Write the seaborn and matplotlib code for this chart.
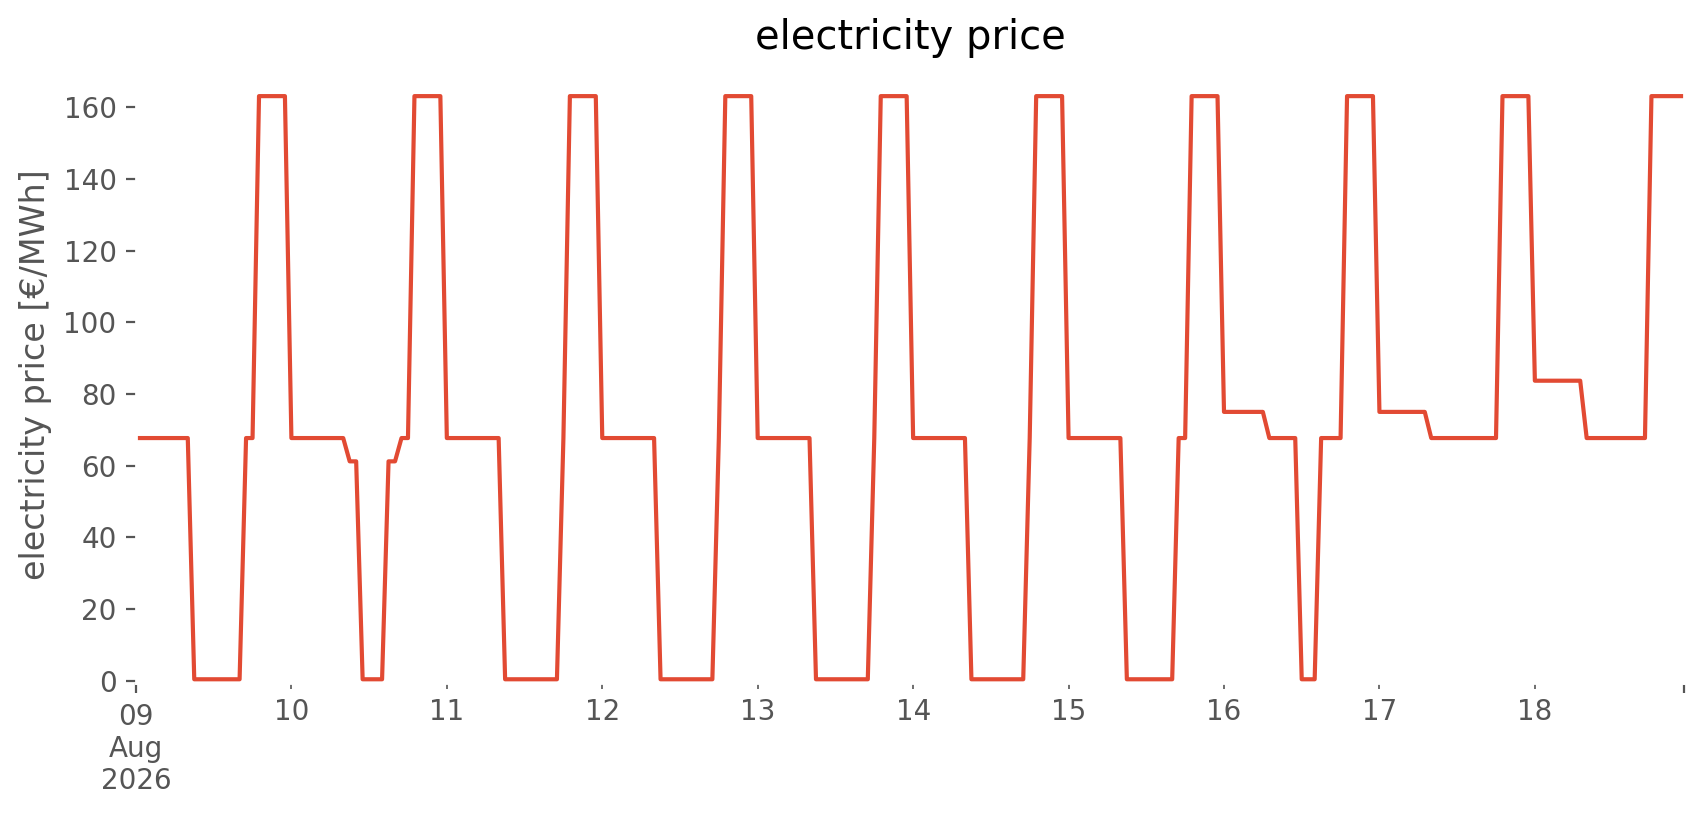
import matplotlib
matplotlib.use("Agg")
import matplotlib.pyplot as plt
import matplotlib.dates as mdates
from matplotlib.ticker import FixedLocator, FixedFormatter
import pandas as pd
import seaborn as sns

# hourly prices [€/MWh], one list per day (09 .. 18 Aug 2026)
day_09 = [67.7, 67.7, 67.7, 67.7, 67.7, 67.7, 67.7, 67.7, 67.7, 0.4, 0.4, 0.4, 0.4, 0.4, 0.4, 0.4, 0.4,
          67.7, 67.7, 163.1, 163.1, 163.1, 163.1, 163.1]
day_10 = [67.7, 67.7, 67.7, 67.7, 67.7, 67.7, 67.7, 67.7, 67.7, 61.2, 61.2, 0.4, 0.4, 0.4, 0.4,
          61.2, 61.2, 67.7, 67.7, 163.1, 163.1, 163.1, 163.1, 163.1]
day_11 = [67.7, 67.7, 67.7, 67.7, 67.7, 67.7, 67.7, 67.7, 67.7, 0.4, 0.4, 0.4, 0.4, 0.4, 0.4, 0.4, 0.4, 0.4,
          67.7, 163.1, 163.1, 163.1, 163.1, 163.1]
day_12 = [67.7, 67.7, 67.7, 67.7, 67.7, 67.7, 67.7, 67.7, 67.7, 0.4, 0.4, 0.4, 0.4, 0.4, 0.4, 0.4, 0.4, 0.4,
          67.7, 163.1, 163.1, 163.1, 163.1, 163.1]
day_13 = [67.7, 67.7, 67.7, 67.7, 67.7, 67.7, 67.7, 67.7, 67.7, 0.4, 0.4, 0.4, 0.4, 0.4, 0.4, 0.4, 0.4, 0.4,
          67.7, 163.1, 163.1, 163.1, 163.1, 163.1]
day_14 = [67.7, 67.7, 67.7, 67.7, 67.7, 67.7, 67.7, 67.7, 67.7, 0.4, 0.4, 0.4, 0.4, 0.4, 0.4, 0.4, 0.4, 0.4,
          67.7, 163.1, 163.1, 163.1, 163.1, 163.1]
day_15 = [67.7, 67.7, 67.7, 67.7, 67.7, 67.7, 67.7, 67.7, 67.7, 0.4, 0.4, 0.4, 0.4, 0.4, 0.4, 0.4, 0.4,
          67.7, 67.7, 163.1, 163.1, 163.1, 163.1, 163.1]
day_16 = [75.0, 75.0, 75.0, 75.0, 75.0, 75.0, 75.0, 67.7, 67.7, 67.7, 67.7, 67.7, 0.4, 0.4, 0.4,
          67.7, 67.7, 67.7, 67.7, 163.1, 163.1, 163.1, 163.1, 163.1]
day_17 = [75.0, 75.0, 75.0, 75.0, 75.0, 75.0, 75.0, 75.0, 67.7, 67.7, 67.7, 67.7, 67.7,
          67.7, 67.7, 67.7, 67.7, 67.7, 67.7, 163.1, 163.1, 163.1, 163.1, 163.1]
day_18 = [83.7, 83.7, 83.7, 83.7, 83.7, 83.7, 83.7, 83.7, 67.7, 67.7, 67.7, 67.7, 67.7,
          67.7, 67.7, 67.7, 67.7, 67.7, 163.1, 163.1, 163.1, 163.1, 163.1, 163.1]

days = [day_09, day_10, day_11, day_12, day_13, day_14, day_15, day_16, day_17, day_18]
prices = [p for d in days for p in d]
times = pd.date_range("2026-08-09 00:00", periods=len(prices), freq="h")

df = pd.DataFrame({"time": times, "price": prices})

minor_days = pd.date_range("2026-08-10", "2026-08-18", freq="D")
minor_labels = [d.strftime("%d") for d in minor_days]
major_labels = ["09\nAug\n2026", ""]

plt.style.use("ggplot")
plt.rcParams["axes.facecolor"] = "white"
plt.rcParams["axes.grid"] = False

fig = plt.figure(figsize=(8.53, 4.075), dpi=200)
ax = fig.add_axes([0.0797, 0.1617, 0.9073, 0.7573])
sns.lineplot(data=df, x="time", y="price", ax=ax, color="#E24A33", linewidth=1.5)

ax.set_xlim(times[0], times[-1])
ax.set_ylim(-0.7, 171.5)
ax.set_yticks(range(0, 161, 20))

ax.xaxis.set_major_locator(FixedLocator(mdates.date2num([times[0], times[-1]])))
ax.xaxis.set_major_formatter(FixedFormatter(major_labels))
ax.xaxis.set_minor_locator(FixedLocator(mdates.date2num(minor_days)))
ax.xaxis.set_minor_formatter(FixedFormatter(minor_labels))
ax.tick_params(axis="x", which="major", length=3.5)
ax.tick_params(axis="x", which="minor", length=2)

ax.set_title("electricity price")
ax.set_xlabel("")
ax.set_ylabel("electricity price [€/MWh]")

fig.savefig("out.png", dpi=200)
